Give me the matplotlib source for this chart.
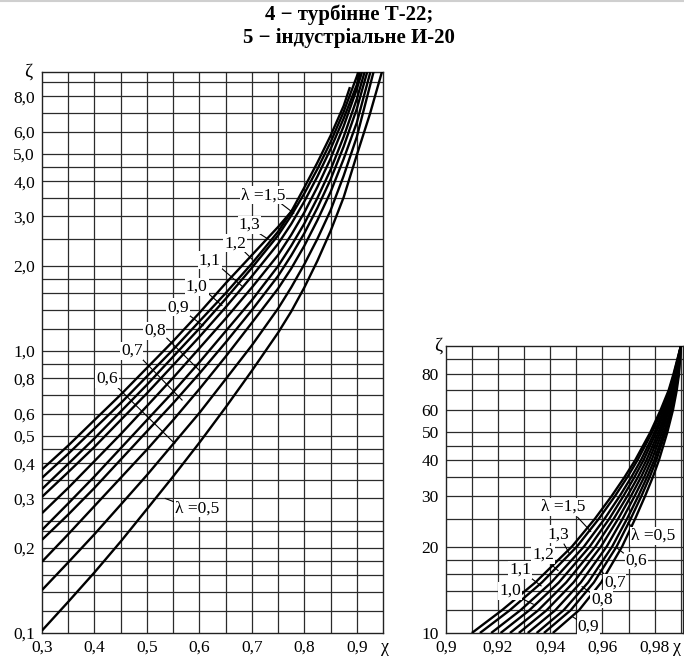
import numpy as np
import matplotlib.pyplot as plt
from matplotlib.lines import Line2D

plt.rcParams['font.family'] = ['Liberation Serif', 'DejaVu Serif']

W, H = 684, 662

# ---------------- left chart: zeta vs chi, chi 0.3 ... 0.95
lambdas = ['1,5', '1,3', '1,2', '1,1', '1,0', '0,9', '0,8', '0,7', '0,6', '0,5']
chi_grid = [0.30, 0.35, 0.40, 0.45, 0.50, 0.55, 0.60, 0.65, 0.70, 0.75,
            0.775, 0.80, 0.825, 0.85, 0.875, 0.90, 0.925]
zeta_left = [
    [0.380, 0.462, 0.569, 0.700, 0.871, 1.084, 1.365, 1.738, 2.188, 2.754, 3.12],
    [0.355, 0.432, 0.531, 0.653, 0.813, 1.012, 1.274, 1.603, 2.042, 2.650, 3.12, 3.80, 4.66, 5.80, 7.40],
    [0.324, 0.398, 0.490, 0.610, 0.759, 0.955, 1.202, 1.531, 1.972, 2.570, 3.02, 3.620, 4.42, 5.500, 7.05, 9.40],
    [0.304, 0.372, 0.457, 0.569, 0.708, 0.891, 1.122, 1.429, 1.841, 2.400, 2.82, 3.390, 4.16, 5.200, 6.68, 8.78],
    [0.266, 0.327, 0.407, 0.507, 0.638, 0.804, 1.023, 1.303, 1.679, 2.190, 2.58, 3.100, 3.82, 4.810, 6.27, 8.48],
    [0.232, 0.288, 0.359, 0.452, 0.569, 0.716, 0.912, 1.175, 1.514, 2.000, 2.36, 2.830, 3.49, 4.390, 5.75, 7.82],
    [0.214, 0.263, 0.327, 0.412, 0.519, 0.653, 0.832, 1.072, 1.396, 1.845, 2.18, 2.615, 3.22, 4.055, 5.31, 7.22],
    [0.179, 0.224, 0.282, 0.355, 0.447, 0.569, 0.733, 0.955, 1.259, 1.665, 1.96, 2.360, 2.91, 3.660, 4.80, 6.45],
    [0.142, 0.178, 0.224, 0.285, 0.363, 0.468, 0.603, 0.794, 1.047, 1.415, 1.68, 2.030, 2.50, 3.150, 4.18, 5.74],
    [0.102, 0.129, 0.164, 0.211, 0.275, 0.359, 0.473, 0.631, 0.851, 1.161, 1.380, 1.679, 2.089, 2.661, 3.508, 4.95, 6.92],
]
chi_end = [0.785, 0.887, 0.903, 0.906, 0.910, 0.915, 0.920, 0.926, 0.932, 0.948]
zeta_end = [3.28, 8.63, 9.77, 9.77, 9.77, 9.77, 9.77, 9.77, 9.77, 9.77]

left_xgrid = np.arange(0.35, 0.949, 0.05)
left_ygrid = [0.12, 0.14, 0.16, 0.18, 0.2, 0.23, 0.25, 0.3, 0.35, 0.4, 0.45, 0.5, 0.6,
              0.7, 0.8, 0.9, 1.0, 1.2, 1.4, 1.6, 1.8, 2.0, 2.5, 3.0, 3.5, 4.0, 4.5,
              5.0, 6.0, 7.0, 8.0, 9.0]
left_yticks = [0.1, 0.2, 0.3, 0.4, 0.5, 0.6, 0.8, 1.0, 2.0, 3.0, 4.0, 5.0, 6.0, 8.0]
left_xticks = [0.3, 0.4, 0.5, 0.6, 0.7, 0.8, 0.9]

# label text, text position, leader start, leader end (data coords)
left_labels = [
    ('λ =1,5', (0.721, 3.57), (0.748, 3.42), (0.780, 3.08)),
    ('1,3', (0.696, 2.80), (0.709, 2.65), (0.730, 2.50)),
    ('1,2', (0.668, 2.41), (0.687, 2.24), (0.700, 2.12)),
    ('1,1', (0.620, 2.10), (0.643, 1.96), (0.681, 1.70)),
    ('1,0', (0.595, 1.69), (0.617, 1.60), (0.643, 1.45)),
    ('0,9', (0.559, 1.43), (0.578, 1.35), (0.607, 1.23)),
    ('0,8', (0.515, 1.18), (0.538, 1.11), (0.601, 0.85)),
    ('0,7', (0.471, 1.00), (0.490, 0.94), (0.567, 0.67)),
    ('0,6', (0.424, 0.796), (0.445, 0.74), (0.553, 0.47)),
    ('λ =0,5', (0.595, 0.277), (0.562, 0.287), (0.535, 0.30)),
]

# ---------------- right chart: zeta 10 ... 100, chi 0.9 ... 0.99
zeta_right = [10, 12, 15, 20, 25, 30, 35, 40, 50, 60, 70, 80, 100]
chi_right = [
    [0.9100, 0.9215, 0.9343, 0.9483, 0.9571, 0.9635, 0.9685, 0.9725, 0.9783, 0.9823, 0.9853, 0.9872, 0.990],
    [0.9131, 0.9245, 0.9368, 0.9502, 0.9586, 0.9648, 0.9696, 0.9734, 0.9790, 0.9828, 0.9856, 0.9874, 0.990],
    [0.9174, 0.9286, 0.9404, 0.9529, 0.9608, 0.9666, 0.9711, 0.9747, 0.9799, 0.9834, 0.9860, 0.9877, 0.990],
    [0.9210, 0.9320, 0.9433, 0.9551, 0.9626, 0.9680, 0.9723, 0.9757, 0.9806, 0.9840, 0.9864, 0.9880, 0.990],
    [0.9246, 0.9354, 0.9461, 0.9573, 0.9643, 0.9695, 0.9736, 0.9768, 0.9814, 0.9845, 0.9868, 0.9882, 0.990],
    [0.9280, 0.9386, 0.9489, 0.9594, 0.9660, 0.9709, 0.9748, 0.9778, 0.9821, 0.9850, 0.9871, 0.9884, 0.990],
    [0.9314, 0.9419, 0.9517, 0.9616, 0.9677, 0.9723, 0.9760, 0.9788, 0.9828, 0.9855, 0.9874, 0.9887, 0.990],
    [0.9348, 0.9451, 0.9545, 0.9637, 0.9694, 0.9737, 0.9771, 0.9798, 0.9835, 0.9861, 0.9878, 0.9889, 0.990],
    [0.9376, 0.9478, 0.9567, 0.9654, 0.9708, 0.9749, 0.9781, 0.9806, 0.9841, 0.9865, 0.9881, 0.9891, 0.990],
    [0.9410, 0.9510, 0.9595, 0.9675, 0.9725, 0.9763, 0.9793, 0.9816, 0.9848, 0.9870, 0.9884, 0.9893, 0.990],
]

right_xgrid = np.arange(0.91, 0.9905, 0.01)
right_ygrid = [12, 14, 16, 18, 20, 25, 30, 35, 40, 45, 50, 60, 70, 80, 90]
right_yticks = [10, 20, 30, 40, 50, 60, 80]
right_xticks = [0.90, 0.92, 0.94, 0.96, 0.98]
right_xtick_labels = ['0,9', '0,92', '0,94', '0,96', '0,98']

right_labels = [
    ('λ =1,5', (0.945, 27.5), (0.9505, 25.3), (0.9555, 22.6)),
    ('1,3', (0.943, 22.1), (0.9453, 20.4), (0.9475, 18.8)),
    ('1,2', (0.9373, 18.7), (0.9405, 17.3), (0.9430, 16.5)),
    ('1,1', (0.9284, 16.6), (0.9328, 15.5), (0.9365, 14.6)),
    ('1,0', (0.9246, 14.0), (0.9290, 13.2), (0.9335, 12.6)),
    ('λ =0,5', (0.9794, 21.8), (0.9718, 23.2), (0.9698, 24.2)),
    ('0,6', (0.9730, 17.9), (0.9680, 19.0), (0.9655, 19.8)),
    ('0,7', (0.9647, 15.0), (0.9608, 16.0), (0.9590, 16.6)),
    ('0,8', (0.9597, 13.1), (0.9555, 13.8), (0.9522, 14.5)),
    ('0,9', (0.9546, 10.5), (0.9505, 11.1), (0.9485, 11.4)),
]

GRID = '#2b2b2b'
FS = 12.5


def px_box(l, t, r, b):
    return [l / W, 1 - b / H, (r - l) / W, (b - t) / H]


def comma(v, fmt):
    return format(v, fmt).replace('.', ',')


def setup(ax, xgrid, ygrid):
    ax.set_yscale('log')
    for x in xgrid:
        ax.axvline(x, color=GRID, lw=0.9, zorder=1)
    for y in ygrid:
        ax.axhline(y, color=GRID, lw=0.9, zorder=1)
    ax.minorticks_off()
    ax.tick_params(length=0, labelsize=FS, pad=5)
    for s in ax.spines.values():
        s.set_color('#222222')
        s.set_linewidth(1.0)


def put_label(ax, txt, pos, p0, p1):
    ax.plot([p0[0], p1[0]], [p0[1], p1[1]], color='black', lw=0.8, zorder=4)
    ax.text(pos[0], pos[1], txt, fontsize=FS, ha='center', va='center', zorder=5,
            bbox=dict(facecolor='white', edgecolor='none', pad=0.6))


fig = plt.figure(figsize=(W / 100, H / 100), dpi=100)
fig.add_artist(Line2D([0, 1], [1 - 1 / H, 1 - 1 / H], color='#cfcfcf', lw=1.5))

# title
fig.text(349 / W, 1 - 15 / H, '4 − турбінне Т-22;', ha='center', va='center',
         fontsize=15, fontweight='bold')
fig.text(349 / W, 1 - 38 / H, '5 − індустріальне И-20', ha='center', va='center',
         fontsize=15, fontweight='bold')

# left chart
axL = fig.add_axes(px_box(42, 72, 383, 633))
setup(axL, left_xgrid, left_ygrid)
for zl, ce, ze in zip(zeta_left, chi_end, zeta_end):
    xs = chi_grid[:len(zl)] + [ce]
    ys = zl + [ze]
    axL.plot(xs, ys, color='black', lw=1.7, zorder=3, solid_capstyle='butt')
axL.set_xlim(0.3, 0.95)
axL.set_ylim(0.1, 9.76)
axL.set_xticks(left_xticks, [comma(v, '.1f') for v in left_xticks])
axL.set_yticks(left_yticks, [comma(v, '.1f') for v in left_yticks])
for txt, pos, p0, p1 in left_labels:
    put_label(axL, txt, pos, p0, p1)
fig.text(28 / W, 1 - 72 / H, 'ζ', fontsize=14, ha='center', va='center')
fig.text(385 / W, 1 - 648 / H, 'χ', fontsize=13, ha='center', va='center')

# right chart
axR = fig.add_axes(px_box(445.7, 346, 682.7, 633))
setup(axR, right_xgrid, right_ygrid)
for cr in chi_right:
    axR.plot(cr, zeta_right, color='black', lw=1.7, zorder=3, solid_capstyle='butt')
axR.set_xlim(0.9, 0.9907)
axR.set_ylim(10, 100)
axR.set_xticks(right_xticks, right_xtick_labels)
axR.set_yticks(right_yticks, [str(v) for v in right_yticks])
for txt, pos, p0, p1 in right_labels:
    put_label(axR, txt, pos, p0, p1)
fig.text(438 / W, 1 - 346 / H, 'ζ', fontsize=14, ha='center', va='center')
fig.text(677 / W, 1 - 647 / H, 'χ', fontsize=13, ha='center', va='center')

fig.savefig('out.png', dpi=100)
